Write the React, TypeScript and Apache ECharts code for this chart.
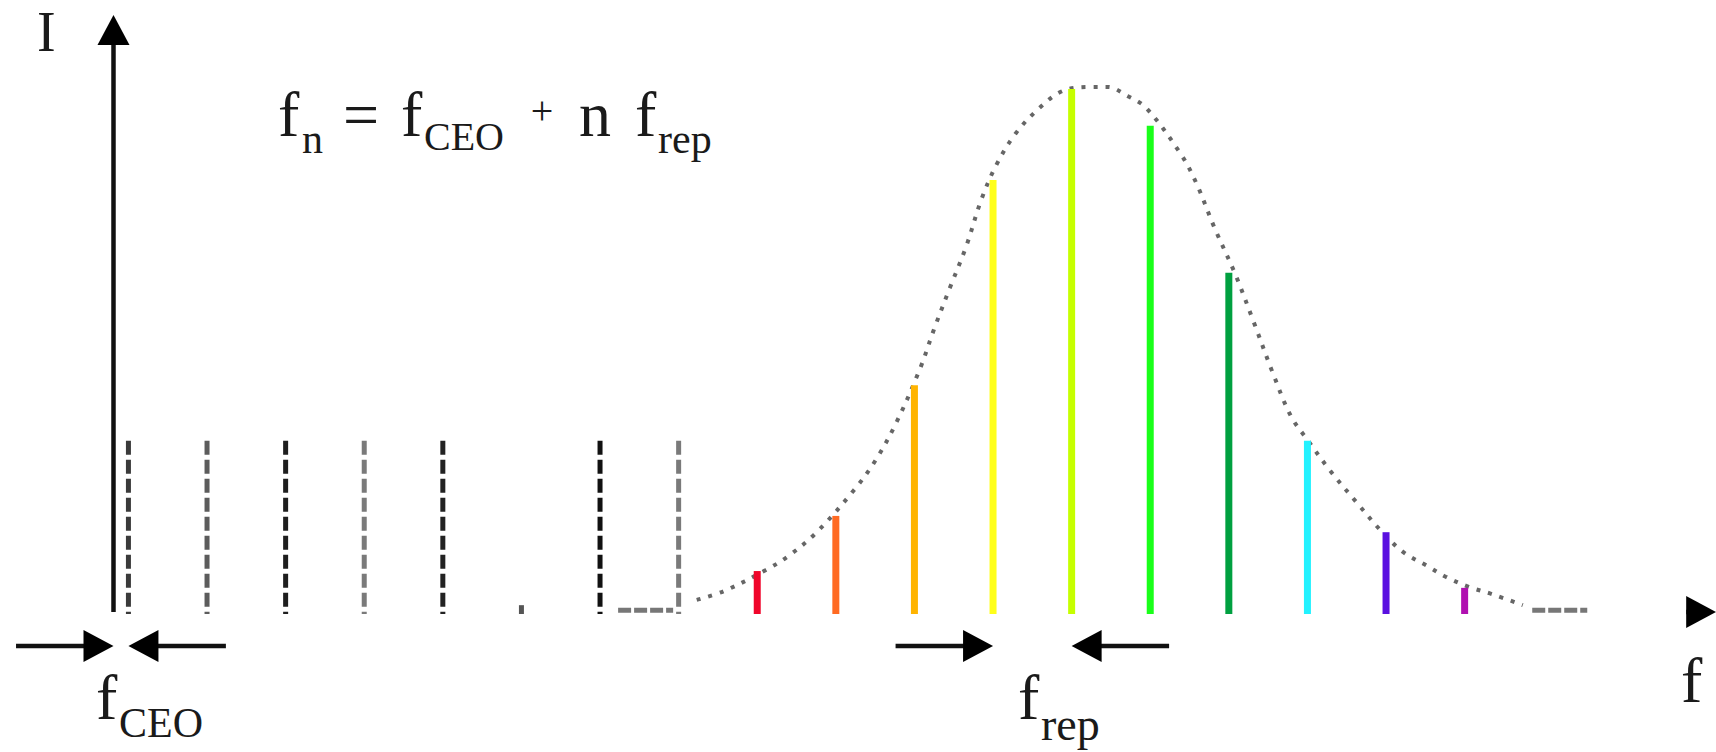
import React, { useEffect, useRef } from "react";
import * as echarts from "echarts";

// Frequencies are in units of f_rep; the offset of the comb is f_CEO.
const fCEO = 0.19;

// Low-frequency comb modes (dashed, outside the spectrum)
const lowModeN = [0, 1, 2, 3, 4, 5, 6, 7];
const lowModeHeights = [32.6, 32.6, 32.6, 32.6, 32.6, 1.3, 32.6, 32.6];
const lowModeColors = ["#3a3a3a", "#5c5c5c", "#1e1e1e", "#7a7a7a", "#222222", "#555555", "#111111", "#7a7a7a"];

// Coloured comb modes under the spectral envelope
const combN = [8, 9, 10, 11, 12, 13, 14, 15, 16, 17];
const combHeights = [7.8, 18.3, 43.2, 82.3, 99.6, 92.6, 64.6, 32.6, 15.2, 4.6];
const combColors = ["#f0062b", "#ff6a22", "#ffb400", "#ffff1a", "#c6ff00", "#1aff1a", "#00a040", "#22f2ff", "#5a10e0", "#b010b0"];

// Dotted spectral envelope (frequency, intensity)
const envelopeF = [7.42, 7.77, 8.30, 8.59, 8.94, 9.42, 9.70, 9.97, 10.26, 10.45, 10.64, 10.85, 11.04, 11.23, 11.48, 11.78, 12.07, 12.41, 12.65, 12.90, 13.14, 13.58, 13.77, 14.01, 14.27, 14.51, 14.75, 14.98, 15.20, 15.48, 15.82, 16.13, 16.41, 16.71, 16.95, 17.24, 17.54, 17.93];
const envelopeI = [2.3, 4.0, 8.0, 10.7, 15.1, 23.2, 29.0, 36.4, 46.3, 54.3, 61.7, 69.7, 78.5, 85.1, 91.2, 96.0, 99.2, 100.0, 100.0, 98.3, 96.0, 87.2, 81.9, 73.1, 64.4, 55.1, 45.5, 37.3, 32.6, 26.9, 20.8, 15.4, 11.4, 8.8, 6.7, 4.8, 3.4, 1.3];

// Short "..." segments on the baseline
const ellipsisLeft = [6.42, 7.12];
const ellipsisRight = [18.05, 18.75];
const ellipsisLevel = 0.35;

// Axes and annotation arrows
const axisTop = 113.7;
const xArrowTip = 20.39;
const arrowRow = -6.48;
const arrowLen = 1.24;
const repLeftMode = 11;
const repRightMode = 12;

// Axis ranges chosen so that the plot fills the page
const xMin = -1.444;
const xMax = 20.388;
const yMin = -26.667;
const yMax = 116.571;

const SERIF = "'Liberation Serif', 'DejaVu Serif', serif";

export default function App() {
  const ref = useRef<HTMLDivElement>(null);

  useEffect(() => {
    if (!ref.current) return;
    const chart = echarts.init(ref.current, undefined, { renderer: "svg" });

    const arrows = [
      [0, 0, 0, axisTop],
      [xArrowTip - 0.38, 0, xArrowTip, 0],
      [-arrowLen, arrowRow, 0, arrowRow],
      [fCEO + arrowLen, arrowRow, fCEO, arrowRow],
      [repLeftMode + fCEO - arrowLen, arrowRow, repLeftMode + fCEO, arrowRow],
      [repRightMode + fCEO + arrowLen, arrowRow, repRightMode + fCEO, arrowRow],
    ];

    const makeComb = (colors: string[], width: number, dash: number[] | null) =>
      (params: any, api: any) => {
        const x = api.value(0);
        const h = api.value(1);
        const top = api.coord([x, h]);
        const bottom = api.coord([x, 0]);
        return {
          type: "line",
          shape: { x1: top[0], y1: top[1], x2: bottom[0], y2: bottom[1] + 2 },
          style: { stroke: colors[params.dataIndex], lineWidth: width, lineDash: dash, lineCap: "butt" },
        };
      };

    const text = (t: string, x: number, y: number, size: number, align = "left") => ({
      type: "text",
      x,
      y,
      style: {
        text: t,
        fontSize: size,
        fontFamily: SERIF,
        fill: "#1a1a1a",
        align,
        verticalAlign: "middle",
      },
    });

    chart.setOption({
      animation: false,
      backgroundColor: "#ffffff",
      grid: { left: 0, right: 0, top: 0, bottom: 0, containLabel: false },
      xAxis: { type: "value", min: xMin, max: xMax, show: false },
      yAxis: { type: "value", min: yMin, max: yMax, show: false },
      series: [
        {
          type: "line",
          data: envelopeF.map((f, i) => [f, envelopeI[i]]),
          smooth: 0.35,
          showSymbol: false,
          lineStyle: { color: "#666", width: 4, type: [4, 8], cap: "butt" },
          z: 1,
        },
        {
          type: "line",
          data: ellipsisLeft.map((f) => [f, ellipsisLevel]),
          showSymbol: false,
          lineStyle: { color: "#777", width: 5, type: [13, 3] },
          z: 1,
        },
        {
          type: "line",
          data: ellipsisRight.map((f) => [f, ellipsisLevel]),
          showSymbol: false,
          lineStyle: { color: "#777", width: 5, type: [13, 3] },
          z: 1,
        },
        {
          type: "custom",
          data: lowModeN.map((n, i) => [n + fCEO, lowModeHeights[i]]),
          renderItem: makeComb(lowModeColors, 5, [14, 5]),
          z: 2,
        },
        {
          type: "custom",
          data: combN.map((n, i) => [n + fCEO, combHeights[i]]),
          renderItem: makeComb(combColors, 7, null),
          z: 2,
        },
        {
          type: "custom",
          data: arrows,
          z: 3,
          renderItem: (params: any, api: any) => {
            const p1 = api.coord([api.value(0), api.value(1)]);
            const p2 = api.coord([api.value(2), api.value(3)]);
            const dx = p2[0] - p1[0];
            const dy = p2[1] - p1[1];
            const len = Math.hypot(dx, dy) || 1;
            const ux = dx / len;
            const uy = dy / len;
            const hl = 30;
            const hw = 16;
            const bx = p2[0] - ux * hl;
            const by = p2[1] - uy * hl;
            return {
              type: "group",
              children: [
                {
                  type: "line",
                  shape: { x1: p1[0], y1: p1[1], x2: bx + ux * 4, y2: by + uy * 4 },
                  style: { stroke: "#111", lineWidth: 4.5 },
                },
                {
                  type: "polygon",
                  shape: {
                    points: [
                      [p2[0], p2[1]],
                      [bx - uy * hw, by + ux * hw],
                      [bx + uy * hw, by - ux * hw],
                    ],
                  },
                  style: { fill: "#000" },
                },
              ],
            };
          },
        },
      ],
      graphic: [
        text("I", 37, 31.5, 56),
        text("f", 278, 114.4, 64),
        text("n", 302, 138.8, 42),
        text("=", 343, 114.4, 64),
        text("f", 401, 114.4, 64),
        text("CEO", 424, 136.5, 40),
        text("+", 542, 110.5, 40, "center"),
        text("n", 579, 114.4, 64),
        text("f", 635, 114.4, 64),
        text("rep", 658, 138.8, 42),
        text("f", 96, 697.4, 64),
        text("CEO", 119, 722.8, 42),
        text("f", 1018, 697.4, 64),
        text("rep", 1041, 724.5, 46),
        text("f", 1681, 680.4, 64),
      ],
    });

    return () => chart.dispose();
  }, []);

  return (
    <div
      ref={ref}
      style={{ position: "fixed", left: 0, top: 0, width: 1716, height: 752, background: "#fff" }}
    />
  );
}
